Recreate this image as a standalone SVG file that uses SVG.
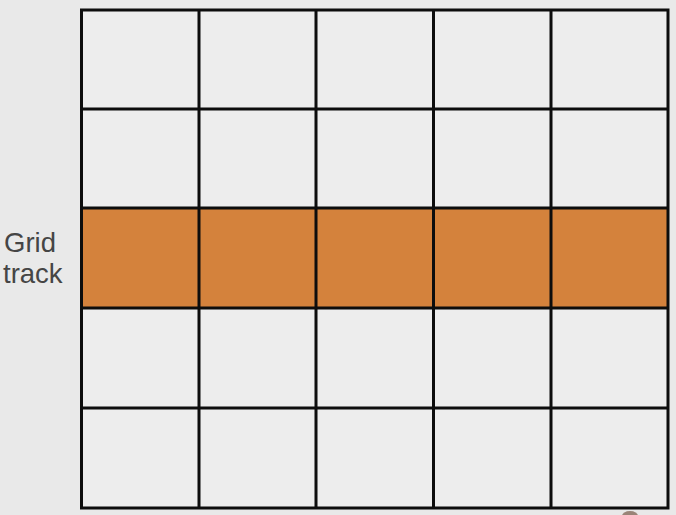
<svg xmlns="http://www.w3.org/2000/svg" width="676" height="515" viewBox="0 0 676 515">
<style>
.cell{fill:#ededed;}
.track{fill:#d4823c;}
.line{stroke:#0d0d0d;stroke-width:3;fill:none;}
.lbl{font-family:"Liberation Sans",Arial,sans-serif;font-size:27.5px;fill:#454545;}
</style>
<rect width="676" height="515" fill="#e9e9e9"/>
<g id="grid">
<rect class="cell" x="81.5" y="10" width="586.5" height="498"/>
<rect id="grid-track" class="track" x="81.5" y="208" width="586.5" height="100"/>
</g>
<g id="lines">
<path class="line" d="M81.5 10H668V508H81.5Z"/>
<path class="line" d="M199 10V508M316 10V508M433.5 10V508M551 10V508"/>
<path class="line" d="M81.5 109H668M81.5 208H668M81.5 308H668M81.5 408H668"/>
</g>
<g id="label">
<text class="lbl" x="4" y="252">Grid</text>
<text class="lbl" x="3" y="283">track</text>
</g>
<ellipse cx="630" cy="516" rx="8" ry="5" fill="#9a8478"/>
</svg>
